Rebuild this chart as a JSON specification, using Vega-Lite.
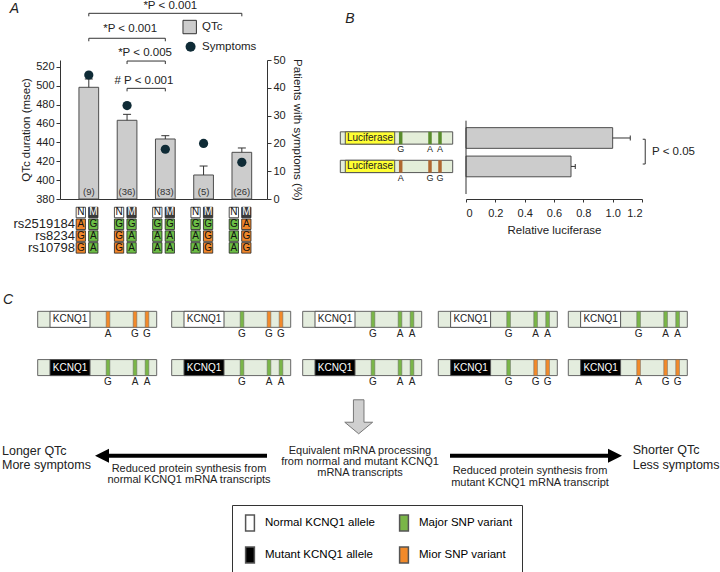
{
"$schema": "https://vega.github.io/schema/vega-lite/v6.json",
"background": "white",
"padding": {"left": 2, "top": 0, "right": 0, "bottom": 0},
"config": {
 "font": "Liberation Sans, Arial, sans-serif",
 "view": {"stroke": null},
 "axis": {"grid": false, "labelFontSize": 11, "titleFontSize": 11.5, "titleFontWeight": "normal", "labelColor": "#222", "titleColor": "#222", "domainColor": "#333", "tickColor": "#333", "tickSize": 4, "labelPadding": 2, "labelOverlap": false, "minExtent": 0},
 "text": {"color": "#222"}
},
"datasets": {
 "groups": [
  {"g":1,"qtc":498.2,"hi":507,"n":"(9)","sym":44.6},
  {"g":2,"qtc":463.3,"hi":469.6,"n":"(36)","sym":33.6},
  {"g":3,"qtc":443.5,"hi":447,"n":"(83)","sym":17.9},
  {"g":4,"qtc":405.4,"hi":414.9,"n":"(5)","sym":20.0},
  {"g":5,"qtc":429.4,"hi":434,"n":"(26)","sym":13.2}
 ],
 "brk": [
  {"x1":1,"x2":5,"y":576.5,"xm":3.13,"ty":584.2,"label":"*P < 0.001"},
  {"x1":1,"x2":3,"y":550.1,"xm":2.08,"ty":559.6,"label":"*P < 0.001"},
  {"x1":2,"x2":3,"y":526.0,"xm":2.47,"ty":534.2,"label":"*P < 0.005"},
  {"x1":2,"x2":3,"y":497.1,"xm":2.44,"ty":505.2,"label":"# P < 0.001"}
 ],
 "alegend": [
  {"series":"QTc","lx":3.637,"ly":562.0,"tx":3.96},
  {"series":"Symptoms","lx":3.66,"ly":541.2,"tx":3.96}
 ],
 "geno": [
  {"g":1,"a":"N","r":0,"t":"N","c":"N"},{"g":1,"a":"N","r":1,"t":"A","c":"Minor"},{"g":1,"a":"N","r":2,"t":"G","c":"Minor"},{"g":1,"a":"N","r":3,"t":"G","c":"Minor"},
  {"g":1,"a":"M","r":0,"t":"M","c":"M"},{"g":1,"a":"M","r":1,"t":"G","c":"Major"},{"g":1,"a":"M","r":2,"t":"A","c":"Major"},{"g":1,"a":"M","r":3,"t":"A","c":"Major"},
  {"g":2,"a":"N","r":0,"t":"N","c":"N"},{"g":2,"a":"N","r":1,"t":"G","c":"Major"},{"g":2,"a":"N","r":2,"t":"G","c":"Minor"},{"g":2,"a":"N","r":3,"t":"G","c":"Minor"},
  {"g":2,"a":"M","r":0,"t":"M","c":"M"},{"g":2,"a":"M","r":1,"t":"G","c":"Major"},{"g":2,"a":"M","r":2,"t":"A","c":"Major"},{"g":2,"a":"M","r":3,"t":"A","c":"Major"},
  {"g":3,"a":"N","r":0,"t":"N","c":"N"},{"g":3,"a":"N","r":1,"t":"G","c":"Major"},{"g":3,"a":"N","r":2,"t":"A","c":"Major"},{"g":3,"a":"N","r":3,"t":"A","c":"Major"},
  {"g":3,"a":"M","r":0,"t":"M","c":"M"},{"g":3,"a":"M","r":1,"t":"G","c":"Major"},{"g":3,"a":"M","r":2,"t":"A","c":"Major"},{"g":3,"a":"M","r":3,"t":"A","c":"Major"},
  {"g":4,"a":"N","r":0,"t":"N","c":"N"},{"g":4,"a":"N","r":1,"t":"G","c":"Major"},{"g":4,"a":"N","r":2,"t":"A","c":"Major"},{"g":4,"a":"N","r":3,"t":"A","c":"Major"},
  {"g":4,"a":"M","r":0,"t":"M","c":"M"},{"g":4,"a":"M","r":1,"t":"G","c":"Major"},{"g":4,"a":"M","r":2,"t":"G","c":"Minor"},{"g":4,"a":"M","r":3,"t":"G","c":"Minor"},
  {"g":5,"a":"N","r":0,"t":"N","c":"N"},{"g":5,"a":"N","r":1,"t":"G","c":"Major"},{"g":5,"a":"N","r":2,"t":"A","c":"Major"},{"g":5,"a":"N","r":3,"t":"A","c":"Major"},
  {"g":5,"a":"M","r":0,"t":"M","c":"M"},{"g":5,"a":"M","r":1,"t":"A","c":"Minor"},{"g":5,"a":"M","r":2,"t":"G","c":"Minor"},{"g":5,"a":"M","r":3,"t":"G","c":"Minor"}
 ],
 "snplab": [{"r":1,"label":"rs2519184"},{"r":2,"label":"rs8234"},{"r":3,"label":"rs10798"}],
 "bdata": [{"idx":1,"v":1.0,"hi":1.12},{"idx":2,"v":0.716,"hi":0.745}],
 "bparts": [
  {"idx":1,"part":"box","x0":0,"x1":112.4},{"idx":1,"part":"luc","x0":5,"x1":54.4},
  {"idx":2,"part":"box","x0":0,"x1":112.4},{"idx":2,"part":"luc","x0":5,"x1":54.4}
 ],
 "bcon": [{"idx":1},{"idx":2}],
 "bsnp": [
  {"idx":1,"pos":60.4,"t":"G","v":"Major"},{"idx":1,"pos":89.7,"t":"A","v":"Major"},{"idx":1,"pos":99.7,"t":"A","v":"Major"},
  {"idx":2,"pos":60.4,"t":"A","v":"Minor"},{"idx":2,"pos":89.7,"t":"G","v":"Minor"},{"idx":2,"pos":99.7,"t":"G","v":"Minor"}
 ],
 "cgenes": [
  {"k":1,"al":"Normal","kind":"Normal KCNQ1 allele","y":315.3,"x0":37.7,"x1":156.7,"k0":50,"k1":90,"kc":70},
  {"k":1,"al":"Mutant","kind":"Mutant KCNQ1 allele","y":365.3,"x0":37.7,"x1":156.7,"k0":50,"k1":90,"kc":70},
  {"k":2,"al":"Normal","kind":"Normal KCNQ1 allele","y":315.3,"x0":171.7,"x1":290.7,"k0":184,"k1":224,"kc":204},
  {"k":2,"al":"Mutant","kind":"Mutant KCNQ1 allele","y":365.3,"x0":171.7,"x1":290.7,"k0":184,"k1":224,"kc":204},
  {"k":3,"al":"Normal","kind":"Normal KCNQ1 allele","y":315.3,"x0":302.7,"x1":421.7,"k0":315,"k1":355,"kc":335},
  {"k":3,"al":"Mutant","kind":"Mutant KCNQ1 allele","y":365.3,"x0":302.7,"x1":421.7,"k0":315,"k1":355,"kc":335},
  {"k":4,"al":"Normal","kind":"Normal KCNQ1 allele","y":315.3,"x0":438.3,"x1":557.3,"k0":450.6,"k1":490.6,"kc":470.6},
  {"k":4,"al":"Mutant","kind":"Mutant KCNQ1 allele","y":365.3,"x0":438.3,"x1":557.3,"k0":450.6,"k1":490.6,"kc":470.6},
  {"k":5,"al":"Normal","kind":"Normal KCNQ1 allele","y":315.3,"x0":568.3,"x1":687.3,"k0":580.6,"k1":620.6,"kc":600.6},
  {"k":5,"al":"Mutant","kind":"Mutant KCNQ1 allele","y":365.3,"x0":568.3,"x1":687.3,"k0":580.6,"k1":620.6,"kc":600.6}
 ],
 "csnps": [
  {"k":1,"al":"Normal","y":315.3,"x":108,"t":"A","kind":"Mior SNP variant"},
  {"k":1,"al":"Normal","y":315.3,"x":135,"t":"G","kind":"Mior SNP variant"},
  {"k":1,"al":"Normal","y":315.3,"x":147,"t":"G","kind":"Mior SNP variant"},
  {"k":1,"al":"Mutant","y":365.3,"x":108,"t":"G","kind":"Major SNP variant"},
  {"k":1,"al":"Mutant","y":365.3,"x":135,"t":"A","kind":"Major SNP variant"},
  {"k":1,"al":"Mutant","y":365.3,"x":147,"t":"A","kind":"Major SNP variant"},
  {"k":2,"al":"Normal","y":315.3,"x":242,"t":"G","kind":"Major SNP variant"},
  {"k":2,"al":"Normal","y":315.3,"x":269,"t":"G","kind":"Mior SNP variant"},
  {"k":2,"al":"Normal","y":315.3,"x":281,"t":"G","kind":"Mior SNP variant"},
  {"k":2,"al":"Mutant","y":365.3,"x":242,"t":"G","kind":"Major SNP variant"},
  {"k":2,"al":"Mutant","y":365.3,"x":269,"t":"A","kind":"Major SNP variant"},
  {"k":2,"al":"Mutant","y":365.3,"x":281,"t":"A","kind":"Major SNP variant"},
  {"k":3,"al":"Normal","y":315.3,"x":373,"t":"G","kind":"Major SNP variant"},
  {"k":3,"al":"Normal","y":315.3,"x":400,"t":"A","kind":"Major SNP variant"},
  {"k":3,"al":"Normal","y":315.3,"x":412,"t":"A","kind":"Major SNP variant"},
  {"k":3,"al":"Mutant","y":365.3,"x":373,"t":"G","kind":"Major SNP variant"},
  {"k":3,"al":"Mutant","y":365.3,"x":400,"t":"A","kind":"Major SNP variant"},
  {"k":3,"al":"Mutant","y":365.3,"x":412,"t":"A","kind":"Major SNP variant"},
  {"k":4,"al":"Normal","y":315.3,"x":508.6,"t":"G","kind":"Major SNP variant"},
  {"k":4,"al":"Normal","y":315.3,"x":535.6,"t":"A","kind":"Major SNP variant"},
  {"k":4,"al":"Normal","y":315.3,"x":547.6,"t":"A","kind":"Major SNP variant"},
  {"k":4,"al":"Mutant","y":365.3,"x":508.6,"t":"G","kind":"Major SNP variant"},
  {"k":4,"al":"Mutant","y":365.3,"x":535.6,"t":"G","kind":"Mior SNP variant"},
  {"k":4,"al":"Mutant","y":365.3,"x":547.6,"t":"G","kind":"Mior SNP variant"},
  {"k":5,"al":"Normal","y":315.3,"x":638.6,"t":"G","kind":"Major SNP variant"},
  {"k":5,"al":"Normal","y":315.3,"x":665.6,"t":"A","kind":"Major SNP variant"},
  {"k":5,"al":"Normal","y":315.3,"x":677.6,"t":"A","kind":"Major SNP variant"},
  {"k":5,"al":"Mutant","y":365.3,"x":638.6,"t":"A","kind":"Mior SNP variant"},
  {"k":5,"al":"Mutant","y":365.3,"x":665.6,"t":"G","kind":"Mior SNP variant"},
  {"k":5,"al":"Mutant","y":365.3,"x":677.6,"t":"G","kind":"Mior SNP variant"}
 ],
 "arrows": [
  {"x1":267,"x2":106,"y":456.7,"hx":102,"dir":"left"},
  {"x1":450,"x2":611,"y":456.7,"hx":615,"dir":"right"}
 ],
 "cbig": [
  {"x":2,"y":451.5,"t":"Longer QTc"},
  {"x":2,"y":466.5,"t":"More symptoms"},
  {"x":632.7,"y":451,"t":"Shorter QTc"},
  {"x":632.7,"y":466,"t":"Less symptoms"}
 ],
 "csmall": [
  {"x":189,"y":470,"t":"Reduced protein synthesis from"},
  {"x":189,"y":481.7,"t":"normal KCNQ1 mRNA transcripts"},
  {"x":360,"y":451.5,"t":"Equivalent mRNA processing"},
  {"x":360,"y":463,"t":"from normal and  mutant KCNQ1"},
  {"x":360,"y":474.5,"t":"mRNA transcripts"},
  {"x":530,"y":473,"t":"Reduced protein synthesis from"},
  {"x":530,"y":484.7,"t":"mutant KCNQ1 mRNA transcript"}
 ]
},
"vconcat": [
 {
  "hconcat": [
   {
    "width": 207, "height": 139,
    "layer": [
     {
      "layer": [
       {
        "data": {"name": "groups"},
        "mark": {"type": "bar", "size": 19.7, "fill": "#cccccc", "stroke": "#4d4d4d", "strokeWidth": 1},
        "encoding": {
         "x": {"field": "g", "type": "quantitative", "scale": {"domain": [0.378, 5.527], "nice": false, "zero": false}, "axis": {"labels": false, "ticks": false, "title": null, "domain": true}},
         "y": {"field": "qtc", "type": "quantitative", "scale": {"domain": [380, 527.1], "nice": false, "zero": false}, "axis": {"orient": "left", "values": [380,420,460,500], "labelOverlap": false, "title": "QTc duration (msec)", "titlePadding": 4}},
         "y2": {"datum": 380}
        }
       },
       {
        "data": {"name": "groups"},
        "mark": {"type": "rule", "color": "#333", "strokeWidth": 1},
        "encoding": {"x": {"field": "g", "type": "quantitative"}, "y": {"field": "qtc", "type": "quantitative"}, "y2": {"field": "hi"}}
       },
       {
        "data": {"name": "groups"},
        "mark": {"type": "tick", "orient": "horizontal", "size": 8, "thickness": 1, "color": "#333", "opacity": 1},
        "encoding": {"x": {"field": "g", "type": "quantitative"}, "y": {"field": "hi", "type": "quantitative"}}
       },
       {
        "data": {"name": "brk"},
        "mark": {"type": "rule", "color": "#333"},
        "encoding": {"x": {"field": "x1", "type": "quantitative"}, "x2": {"field": "x2"}, "y": {"field": "y", "type": "quantitative"}}
       },
       {
        "data": {"name": "brk"},
        "mark": {"type": "rule", "color": "#333", "y2Offset": 3},
        "encoding": {"x": {"field": "x1", "type": "quantitative"}, "y": {"field": "y", "type": "quantitative"}, "y2": {"field": "y"}}
       },
       {
        "data": {"name": "brk"},
        "mark": {"type": "rule", "color": "#333", "y2Offset": 3},
        "encoding": {"x": {"field": "x2", "type": "quantitative"}, "y": {"field": "y", "type": "quantitative"}, "y2": {"field": "y"}}
       },
       {
        "data": {"name": "brk"},
        "mark": {"type": "text", "fontSize": 11.5, "baseline": "middle"},
        "encoding": {"x": {"field": "xm", "type": "quantitative"}, "y": {"field": "ty", "type": "quantitative"}, "text": {"field": "label"}}
       },
       {
        "data": {"name": "alegend"},
        "transform": [{"filter": "datum.series === 'QTc'"}],
        "mark": {"type": "point", "shape": "square", "size": 180, "filled": true, "fill": "#cccccc", "stroke": "#333", "strokeWidth": 1, "opacity": 1},
        "encoding": {"x": {"field": "lx", "type": "quantitative"}, "y": {"field": "ly", "type": "quantitative"}}
       },
       {
        "data": {"name": "alegend"},
        "transform": [{"filter": "datum.series === 'Symptoms'"}],
        "mark": {"type": "point", "shape": "circle", "size": 100, "filled": true, "fill": "#0f2b36", "strokeWidth": 0, "opacity": 1},
        "encoding": {"x": {"field": "lx", "type": "quantitative"}, "y": {"field": "ly", "type": "quantitative"}}
       },
       {
        "data": {"name": "alegend"},
        "mark": {"type": "text", "fontSize": 11.5, "align": "left", "baseline": "middle"},
        "encoding": {"x": {"field": "tx", "type": "quantitative"}, "y": {"field": "ly", "type": "quantitative"}, "text": {"field": "series"}}
       },
       {
        "data": {"values": [{"t": "A"}]},
        "mark": {"type": "text", "fontSize": 14, "fontStyle": "italic", "align": "left", "baseline": "middle"},
        "encoding": {"x": {"datum": -1.065, "type": "quantitative"}, "y": {"datum": 581.4, "type": "quantitative"}, "text": {"field": "t"}}
       }
      ]
     },
     {
      "data": {"name": "groups"},
      "mark": {"type": "text", "fontSize": 9.5, "color": "#333", "baseline": "middle"},
      "encoding": {
       "x": {"field": "g", "type": "quantitative"},
       "y": {"datum": 387.7, "type": "quantitative", "scale": {"domain": [380, 527.1], "nice": false, "zero": false}, "axis": {"orient": "left", "values": [400,440,480,520], "labelOverlap": false, "title": null, "domain": false}},
       "text": {"field": "n"}
      }
     },
     {
      "data": {"name": "groups"},
      "mark": {"type": "point", "filled": true, "size": 85, "opacity": 1, "strokeWidth": 0, "fill": "#0f2b36"},
      "encoding": {
       "x": {"field": "g", "type": "quantitative"},
       "y": {"field": "sym", "type": "quantitative", "scale": {"domain": [0, 50], "nice": false}, "axis": {"orient": "right", "values": [0,10,20,30,40,50], "labelOverlap": false, "title": "Patients with symptoms (%)", "titlePadding": 6}}
      }
     },
     {
      "layer": [
       {
        "data": {"name": "geno"},
        "transform": [{"filter": "datum.a === 'N'"}],
        "mark": {"type": "point", "shape": "M-0.886,-1H0.886V1H-0.886Z", "size": 110, "filled": true, "opacity": 1, "stroke": "#222", "strokeWidth": 0.8, "xOffset": -8},
        "encoding": {
         "x": {"field": "g", "type": "quantitative"},
         "y": {"field": "r", "type": "quantitative", "scale": {"domain": [-12.924, -1.144], "reverse": true, "nice": false, "zero": false}, "axis": null},
         "color": {"field": "c", "type": "nominal", "scale": {"domain": ["N", "M", "Major", "Minor"], "range": ["#ffffff", "#3a3a3a", "#6cbd45", "#f0862a"]}, "legend": null}
        }
       },
       {
        "data": {"name": "geno"},
        "transform": [{"filter": "datum.a === 'M'"}],
        "mark": {"type": "point", "shape": "M-0.886,-1H0.886V1H-0.886Z", "size": 110, "filled": true, "opacity": 1, "stroke": "#222", "strokeWidth": 0.8, "xOffset": 4.5},
        "encoding": {
         "x": {"field": "g", "type": "quantitative"},
         "y": {"field": "r", "type": "quantitative", "axis": null},
         "color": {"field": "c", "type": "nominal", "legend": null}
        }
       },
       {
        "data": {"name": "geno"},
        "transform": [{"filter": "datum.a === 'N'"}],
        "mark": {"type": "text", "fontSize": 10, "dx": -8, "baseline": "middle"},
        "encoding": {
         "x": {"field": "g", "type": "quantitative"},
         "y": {"field": "r", "type": "quantitative", "axis": null},
         "text": {"field": "t"},
         "color": {"condition": {"test": "datum.c === 'M'", "value": "#ffffff"}, "value": "#111111"}
        }
       },
       {
        "data": {"name": "geno"},
        "transform": [{"filter": "datum.a === 'M'"}],
        "mark": {"type": "text", "fontSize": 10, "dx": 4.5, "baseline": "middle"},
        "encoding": {
         "x": {"field": "g", "type": "quantitative"},
         "y": {"field": "r", "type": "quantitative", "axis": null},
         "text": {"field": "t"},
         "color": {"condition": {"test": "datum.c === 'M'", "value": "#ffffff"}, "value": "#111111"}
        }
       },
       {
        "data": {"name": "snplab"},
        "mark": {"type": "text", "fontSize": 13, "align": "right", "baseline": "middle"},
        "encoding": {
         "x": {"datum": 0.639, "type": "quantitative"},
         "y": {"field": "r", "type": "quantitative", "axis": null},
         "text": {"field": "label"}
        }
       }
      ]
     }
    ],
    "resolve": {"scale": {"y": "independent"}}
   },
   {
    "width": 176, "height": 139,
    "layer": [
     {
      "layer": [
       {
        "data": {"name": "bdata"},
        "mark": {"type": "bar", "orient": "horizontal", "size": 20.7, "fill": "#cccccc", "stroke": "#4d4d4d", "strokeWidth": 1},
        "encoding": {
         "x": {"field": "v", "type": "quantitative", "scale": {"domain": [0, 1.2], "nice": false}, "axis": {"orient": "bottom", "values": [0,0.4,0.8,1.2], "labelOverlap": false, "labelExpr": "datum.value === 0 ? '0' : format(datum.value, '.1f')", "title": "Relative luciferase", "titlePadding": 6, "tickSize": 3, "labelPadding": 5}},
         "x2": {"datum": 0},
         "y": {"field": "idx", "type": "quantitative", "scale": {"domain": [-1.566, 2.969], "reverse": true, "nice": false, "zero": false}, "axis": null}
        }
       },
       {
        "data": {"values": [{"s": "axis"}]},
        "mark": {"type": "rule", "color": "#333"},
        "encoding": {"x": {"datum": 0, "type": "quantitative"}, "y": {"datum": 0.3916, "type": "quantitative", "axis": null}, "y2": {"datum": 2.969}}
       },
       {
        "data": {"values": [{"s": "b"}]},
        "mark": {"type": "rule", "color": "#333"},
        "encoding": {"x": {"datum": 1.222, "type": "quantitative"}, "y": {"datum": 1.044, "type": "quantitative", "axis": null}, "y2": {"datum": 1.915}}
       },
       {
        "data": {"values": [{"yy": 1.044}, {"yy": 1.915}]},
        "mark": {"type": "rule", "color": "#333", "x2Offset": -2.5},
        "encoding": {"x": {"datum": 1.222, "type": "quantitative"}, "x2": {"datum": 1.222}, "y": {"field": "yy", "type": "quantitative", "axis": null}}
       },
       {
        "data": {"values": [{"t": "P < 0.05"}]},
        "mark": {"type": "text", "fontSize": 11.5, "align": "left", "baseline": "middle"},
        "encoding": {"x": {"datum": 1.268, "type": "quantitative"}, "y": {"datum": 1.48, "type": "quantitative", "axis": null}, "text": {"field": "t"}}
       }
      ]
     },
     {
      "layer": [
       {
        "data": {"name": "bdata"},
        "mark": {"type": "rule", "color": "#333"},
        "encoding": {
         "x": {"field": "v", "type": "quantitative", "scale": {"domain": [0, 1.2], "nice": false}, "axis": {"orient": "bottom", "values": [0.2,0.6,1], "labelOverlap": false, "labelExpr": "format(datum.value, '.1f')", "title": null, "domain": false, "tickSize": 3, "labelPadding": 5}},
         "x2": {"field": "hi"},
         "y": {"field": "idx", "type": "quantitative", "axis": null}
        }
       },
       {
        "data": {"name": "bdata"},
        "mark": {"type": "tick", "orient": "vertical", "size": 5, "thickness": 1, "color": "#333", "opacity": 1},
        "encoding": {"x": {"field": "hi", "type": "quantitative"}, "y": {"field": "idx", "type": "quantitative", "axis": null}}
       }
      ]
     },
     {
      "layer": [
       {
        "data": {"name": "bparts"},
        "mark": {"type": "bar", "orient": "horizontal", "size": 12.3, "stroke": "#555", "strokeWidth": 1},
        "encoding": {
         "x": {"field": "x0", "type": "quantitative", "scale": {"domain": [125.7, 301.7], "nice": false, "zero": false}, "axis": null},
         "x2": {"field": "x1"},
         "y": {"field": "idx", "type": "quantitative", "axis": null},
         "fill": {"condition": {"test": "datum.part === 'luc'", "value": "#ffff33"}, "value": "#e4eed9"}
        }
       },
       {
        "data": {"name": "bcon"},
        "mark": {"type": "text", "fontSize": 10, "baseline": "middle"},
        "encoding": {"x": {"datum": 29.7, "type": "quantitative", "axis": null}, "y": {"field": "idx", "type": "quantitative", "axis": null}, "text": {"value": "Luciferase"}}
       },
       {
        "data": {"name": "bsnp"},
        "mark": {"type": "tick", "orient": "vertical", "size": 12.3, "thickness": 3.5, "opacity": 1, "filled": true},
        "encoding": {
         "x": {"field": "pos", "type": "quantitative", "axis": null},
         "y": {"field": "idx", "type": "quantitative", "axis": null},
         "fill": {"field": "v", "type": "nominal", "scale": {"domain": ["Major", "Minor"], "range": ["#5a8c2d", "#b06830"]}, "legend": null}
        }
       },
       {
        "data": {"name": "bsnp"},
        "mark": {"type": "text", "fontSize": 9, "dy": 11.2, "baseline": "middle"},
        "encoding": {"x": {"field": "pos", "type": "quantitative", "axis": null}, "y": {"field": "idx", "type": "quantitative", "axis": null}, "text": {"field": "t"}}
       },
       {
        "data": {"values": [{"t": "B"}]},
        "mark": {"type": "text", "fontSize": 14, "fontStyle": "italic", "align": "left", "baseline": "middle"},
        "encoding": {"x": {"datum": 5, "type": "quantitative", "axis": null}, "y": {"datum": -3.197, "type": "quantitative", "axis": null}, "text": {"field": "t"}}
       }
      ]
     }
    ],
    "resolve": {"scale": {"x": "independent"}}
   }
  ],
  "spacing": 36,
  "resolve": {"scale": {"fill": "independent", "color": "independent", "shape": "independent"}}
 },
 {
  "width": 660, "height": 284,
  "layer": [
   {
    "data": {"name": "cgenes"},
    "mark": {"type": "bar", "orient": "horizontal", "size": 16, "fill": "#e4edde", "stroke": "#666", "strokeWidth": 1},
    "encoding": {
     "x": {"field": "x0", "type": "quantitative", "scale": {"domain": [60, 720], "nice": false, "zero": false}, "axis": null},
     "x2": {"field": "x1"},
     "y": {"field": "y", "type": "quantitative", "scale": {"domain": [288, 572], "reverse": true, "nice": false, "zero": false}, "axis": null}
    }
   },
   {
    "data": {"name": "cgenes"},
    "mark": {"type": "bar", "orient": "horizontal", "size": 16, "stroke": "#555", "strokeWidth": 1},
    "encoding": {
     "x": {"field": "k0", "type": "quantitative", "axis": null},
     "x2": {"field": "k1"},
     "y": {"field": "y", "type": "quantitative", "axis": null},
     "fill": {"field": "kind", "type": "nominal",
      "scale": {"domain": ["Normal KCNQ1 allele", "Mutant KCNQ1 allele", "Major SNP variant", "Mior SNP variant"], "range": ["#ffffff", "#000000", "#7ab648", "#f28a2a"]},
      "legend": {"orient": "none", "legendX": 172, "legendY": 217, "title": null, "columns": 2, "columnPadding": 20, "rowPadding": 10, "padding": 9, "strokeColor": "#333", "fillColor": "#ffffff", "symbolType": "M-0.55,-1H0.55V1H-0.55Z", "symbolSize": 256, "labelFontSize": 11.5, "labelOffset": 6,
       "encode": {"symbols": {"update": {"stroke": {"value": "#555555"}, "strokeWidth": {"value": 1}, "opacity": {"value": 1}}}}}}
    }
   },
   {
    "data": {"name": "cgenes"},
    "mark": {"type": "text", "fontSize": 10, "baseline": "middle"},
    "encoding": {
     "x": {"field": "kc", "type": "quantitative", "axis": null},
     "y": {"field": "y", "type": "quantitative", "axis": null},
     "text": {"value": "KCNQ1"},
     "color": {"condition": {"test": "datum.al === 'Mutant'", "value": "#ffffff"}, "value": "#222222"}
    }
   },
   {
    "data": {"name": "csnps"},
    "mark": {"type": "tick", "orient": "vertical", "size": 16, "thickness": 3.7, "opacity": 1, "filled": true, "stroke": "#666", "strokeWidth": 0.5},
    "encoding": {
     "x": {"field": "x", "type": "quantitative", "axis": null},
     "y": {"field": "y", "type": "quantitative", "axis": null},
     "fill": {"field": "kind", "type": "nominal"}
    }
   },
   {
    "data": {"name": "csnps"},
    "mark": {"type": "text", "fontSize": 10, "dy": 14.7, "baseline": "middle"},
    "encoding": {
     "x": {"field": "x", "type": "quantitative", "axis": null},
     "y": {"field": "y", "type": "quantitative", "axis": null},
     "text": {"field": "t"}
    }
   },
   {
    "data": {"name": "arrows"},
    "mark": {"type": "rule", "color": "#000", "strokeWidth": 4},
    "encoding": {
     "x": {"field": "x1", "type": "quantitative", "axis": null},
     "x2": {"field": "x2"},
     "y": {"field": "y", "type": "quantitative", "axis": null}
    }
   },
   {
    "data": {"name": "arrows"},
    "mark": {"type": "point", "size": 196, "filled": true, "fill": "#000", "opacity": 1, "strokeWidth": 0},
    "encoding": {
     "x": {"field": "hx", "type": "quantitative", "axis": null},
     "y": {"field": "y", "type": "quantitative", "axis": null},
     "shape": {"field": "dir", "type": "nominal", "scale": {"domain": ["left", "right"], "range": ["M-1,0L1,-1L1,1Z", "M1,0L-1,-1L-1,1Z"]}, "legend": null}
    }
   },
   {
    "data": {"values": [{"s": "down"}]},
    "mark": {"type": "point", "shape": "M-0.31,-1H0.31V0.32H0.82L0,1L-0.82,0.32H-0.31Z", "size": 1156, "filled": true, "fill": "#cfcfcf", "stroke": "#777", "strokeWidth": 1, "opacity": 1},
    "encoding": {
     "x": {"datum": 358.7, "type": "quantitative", "axis": null},
     "y": {"datum": 416.3, "type": "quantitative", "axis": null}
    }
   },
   {
    "data": {"name": "cbig"},
    "mark": {"type": "text", "fontSize": 12.5, "align": "left", "baseline": "middle"},
    "encoding": {
     "x": {"field": "x", "type": "quantitative", "axis": null},
     "y": {"field": "y", "type": "quantitative", "axis": null},
     "text": {"field": "t"}
    }
   },
   {
    "data": {"name": "csmall"},
    "mark": {"type": "text", "fontSize": 11, "align": "center", "baseline": "middle"},
    "encoding": {
     "x": {"field": "x", "type": "quantitative", "axis": null},
     "y": {"field": "y", "type": "quantitative", "axis": null},
     "text": {"field": "t"}
    }
   },
   {
    "data": {"values": [{"t": "C"}]},
    "mark": {"type": "text", "fontSize": 14, "fontStyle": "italic", "align": "left", "baseline": "middle"},
    "encoding": {
     "x": {"datum": 3, "type": "quantitative", "axis": null},
     "y": {"datum": 295, "type": "quantitative", "axis": null},
     "text": {"field": "t"}
    }
   }
  ]
 }
],
"spacing": 33,
"resolve": {"scale": {"fill": "independent", "color": "independent", "shape": "independent"}}
}
